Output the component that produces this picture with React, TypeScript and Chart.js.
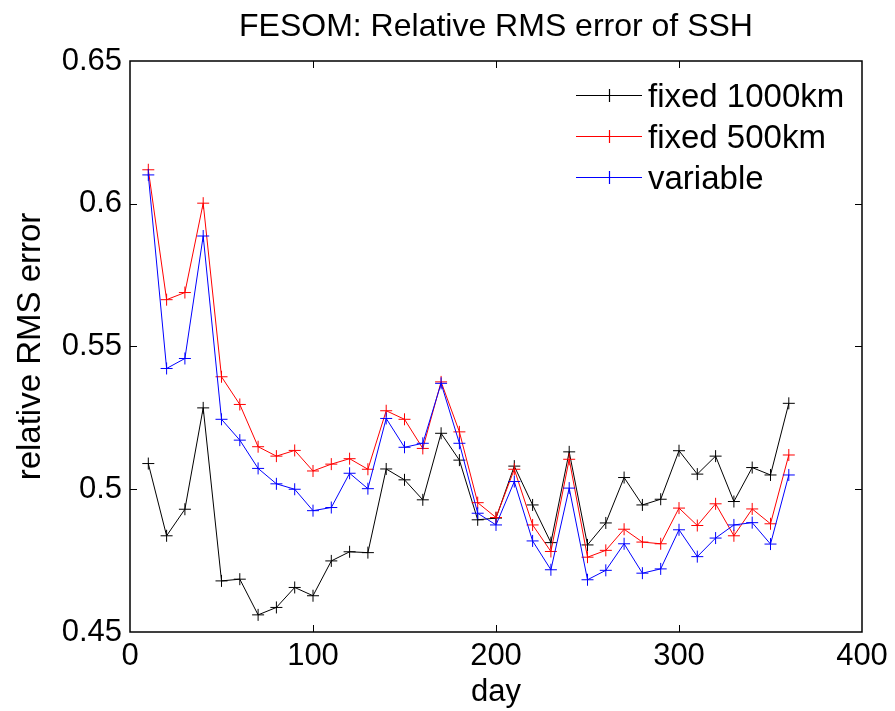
import React, { useEffect, useRef } from "react";
import { Chart, registerables } from "chart.js";

Chart.register(...registerables);

const days = [10, 20, 30, 40, 50, 60, 70, 80, 90, 100, 110, 120, 130, 140, 150, 160, 170, 180, 190, 200, 210, 220, 230, 240, 250, 260, 270, 280, 290, 300, 310, 320, 330, 340, 350, 360];

const fixed1000 = [0.509, 0.4837, 0.493, 0.5285, 0.4679, 0.4685, 0.456, 0.4586, 0.4656, 0.4627, 0.4749, 0.4781, 0.4778, 0.5071, 0.5033, 0.4963, 0.5196, 0.5102, 0.4893, 0.4899, 0.5081, 0.4945, 0.4813, 0.5131, 0.4805, 0.4882, 0.5041, 0.4945, 0.4965, 0.5135, 0.5053, 0.5116, 0.4957, 0.5076, 0.505, 0.5301];

const fixed500 = [0.6119, 0.5664, 0.5689, 0.6002, 0.5394, 0.5297, 0.5149, 0.5116, 0.5136, 0.5064, 0.5088, 0.5107, 0.507, 0.5275, 0.5245, 0.5143, 0.5376, 0.5201, 0.4953, 0.4901, 0.507, 0.4875, 0.4782, 0.5105, 0.4762, 0.4786, 0.486, 0.4815, 0.4809, 0.4934, 0.4873, 0.4949, 0.4837, 0.4931, 0.4879, 0.512];

const variable = [0.6101, 0.5423, 0.5458, 0.5887, 0.5245, 0.5172, 0.5073, 0.5019, 0.5, 0.4925, 0.4936, 0.5056, 0.5002, 0.5248, 0.5147, 0.5161, 0.5371, 0.5161, 0.4916, 0.4875, 0.5027, 0.4819, 0.4718, 0.5004, 0.4683, 0.4716, 0.4809, 0.4706, 0.4721, 0.4858, 0.4764, 0.4829, 0.4875, 0.4883, 0.4808, 0.505];

const seriesNames = ["fixed 1000km", "fixed 500km", "variable"];
const seriesColors = ["#000000", "#ff0000", "#0000ff"];
const xTickValues = [0, 100, 200, 300, 400];
const yTickLabels = ["0.45", "0.5", "0.55", "0.6", "0.65"];
const titleText = "FESOM: Relative RMS error of SSH";
const xTitle = "day";
const yTitle = "relative RMS error";

const FONT = "'Liberation Sans', Arial, Helvetica, sans-serif";

const decorPlugin = {
  id: "decor",
  afterDraw(chart: any) {
    const ctx = chart.ctx;
    const { left, right, top, bottom } = chart.chartArea;
    const xs = chart.scales.x;
    const ys = chart.scales.y;
    ctx.save();
    // inward ticks
    ctx.strokeStyle = "#000";
    ctx.lineWidth = 1;
    ctx.beginPath();
    [100, 200, 300].forEach((v) => {
      const px = Math.round(xs.getPixelForValue(v)) + 0.5;
      ctx.moveTo(px, bottom);
      ctx.lineTo(px, bottom - 7);
      ctx.moveTo(px, top);
      ctx.lineTo(px, top + 7);
    });
    [0.5, 0.55, 0.6].forEach((v) => {
      const py = Math.round(ys.getPixelForValue(v)) + 0.5;
      ctx.moveTo(left, py);
      ctx.lineTo(left + 7, py);
      ctx.moveTo(right, py);
      ctx.lineTo(right - 7, py);
    });
    ctx.stroke();
    // frame
    ctx.lineWidth = 1.5;
    ctx.strokeRect(left, top, right - left, bottom - top);
    // title
    ctx.fillStyle = "#000";
    ctx.font = `32px ${FONT}`;
    ctx.textAlign = "center";
    ctx.textBaseline = "alphabetic";
    ctx.fillText(titleText, (left + right) / 2, 36);
    // legend
    ctx.font = `33px ${FONT}`;
    ctx.textAlign = "left";
    seriesNames.forEach((name, i) => {
      const y = 95 + i * 41;
      ctx.strokeStyle = seriesColors[i];
      ctx.lineWidth = 1.2;
      ctx.beginPath();
      ctx.moveTo(576, y + 0.5);
      ctx.lineTo(642, y + 0.5);
      ctx.moveTo(609.5, y - 6);
      ctx.lineTo(609.5, y + 7);
      ctx.stroke();
      ctx.fillStyle = "#000";
      ctx.fillText(name, 648, y + 12);
    });
    ctx.restore();
  },
};

export default function App() {
  const canvasRef = useRef<HTMLCanvasElement | null>(null);

  useEffect(() => {
    const canvas = canvasRef.current;
    if (!canvas) return;
    const seriesData = [fixed1000, fixed500, variable];
    const chart = new Chart(canvas, {
      type: "line",
      data: {
        datasets: seriesData.map((arr, i) => ({
          label: seriesNames[i],
          data: days.map((d, j) => ({ x: d, y: arr[j] })),
          borderColor: seriesColors[i],
          backgroundColor: seriesColors[i],
          borderWidth: 1,
          pointStyle: "cross",
          pointRadius: 6,
          pointBorderWidth: 1,
          pointBorderColor: seriesColors[i],
          fill: false,
          tension: 0,
          order: 3 - i,
        })),
      },
      options: {
        animation: false,
        responsive: false,
        maintainAspectRatio: false,
        layout: { padding: { top: 61, right: 33, left: 0, bottom: 0 } },
        plugins: {
          legend: { display: false },
          title: { display: false },
          tooltip: { enabled: false },
        },
        scales: {
          x: {
            type: "linear",
            min: 0,
            max: 400,
            afterBuildTicks: (scale: any) => {
              scale.ticks = xTickValues.map((v) => ({ value: v }));
            },
            afterFit: (scale: any) => {
              scale.height = 79;
            },
            grid: { display: false, drawTicks: false },
            border: { display: false },
            ticks: {
              color: "#000",
              font: { family: FONT, size: 31 },
              padding: 6,
              maxRotation: 0,
              autoSkip: false,
              callback: (v: any) => String(v),
            },
            title: {
              display: true,
              text: xTitle,
              color: "#000",
              font: { family: FONT, size: 31 },
              padding: { top: 0, bottom: 0 },
            },
          },
          y: {
            type: "linear",
            min: 0.45,
            max: 0.65,
            afterBuildTicks: (scale: any) => {
              scale.ticks = yTickLabels.map((s) => ({ value: parseFloat(s) }));
            },
            afterFit: (scale: any) => {
              scale.width = 130;
            },
            grid: { display: false, drawTicks: false },
            border: { display: false },
            ticks: {
              color: "#000",
              font: { family: FONT, size: 31 },
              padding: 8,
              autoSkip: false,
              callback: (_v: any, idx: number) => yTickLabels[idx],
            },
            title: {
              display: true,
              text: yTitle,
              color: "#000",
              font: { family: FONT, size: 33 },
              padding: { top: 11, bottom: 0 },
            },
          },
        },
      },
      plugins: [decorPlugin],
    });
    return () => chart.destroy();
  }, []);

  return (
    <div style={{ position: "fixed", left: 0, top: 0, width: 895, height: 711, background: "#fff" }}>
      <canvas ref={canvasRef} width={895} height={711} />
    </div>
  );
}
